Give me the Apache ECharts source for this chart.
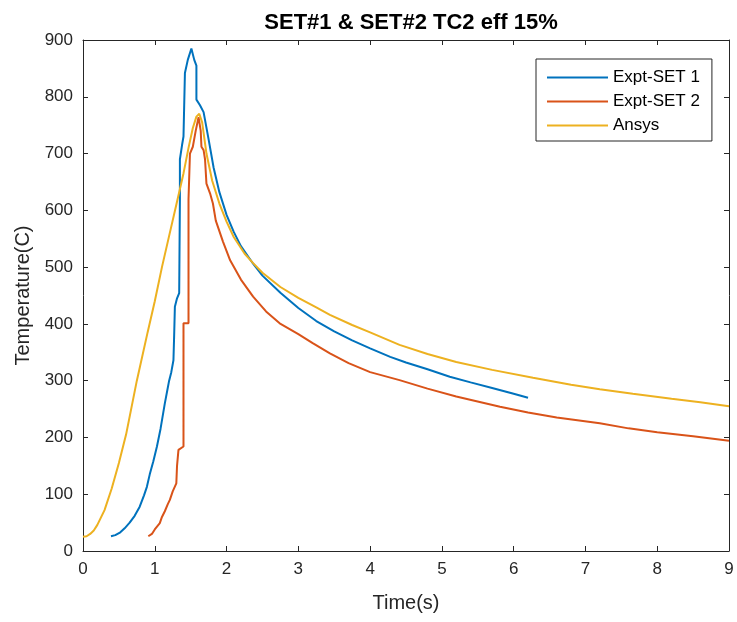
<!DOCTYPE html>
<html>
<head>
<meta charset="utf-8">
<script src="https://cdn.jsdelivr.net/npm/echarts@6/dist/echarts.min.js"></script>
<style>
html,body{margin:0;padding:0;background:#fff;}
#chart{width:737px;height:622px;}
</style>
</head>
<body>
<div id="chart"></div>
<script>
const titleText = 'SET#1 & SET#2 TC2 eff 15%';
const xName = 'Time(s)';
const yName = 'Temperature(C)';
const seriesNames = ['Expt-SET 1', 'Expt-SET 2', 'Ansys'];
const seriesColors = ['#0072BD', '#D95319', '#EDB120'];
const xTicks = [0,1,2,3,4,5,6,7,8,9];
const yTicks = [0,100,200,300,400,500,600,700,800,900];

const set1 = [[0.39,26],[0.45,28],[0.52,33],[0.58,40],[0.65,50],[0.72,62],[0.79,78],[0.85,98],[0.89,113],[0.93,135],[0.98,158],[1.03,184],[1.08,215],[1.12,245],[1.14,260],[1.17,280],[1.20,300],[1.23,315],[1.26,336],[1.27,380],[1.28,430],[1.31,445],[1.34,454],[1.35,620],[1.35,690],[1.38,715],[1.40,730],[1.42,842],[1.46,865],[1.51,885],[1.55,865],[1.58,855],[1.58,795],[1.63,785],[1.68,773],[1.75,725],[1.82,675],[1.9,632],[2.0,592],[2.1,562],[2.2,537],[2.37,506],[2.5,485],[2.75,455],[3.0,428],[3.25,405],[3.5,387],[3.75,371],[4.0,357],[4.28,342],[4.5,332],[4.8,320],[5.11,307],[5.4,297],[5.7,287],[6.0,277],[6.2,270]];

const set2 = [[0.91,26],[0.96,30],[1.0,38],[1.07,49],[1.1,60],[1.14,70],[1.18,82],[1.21,90],[1.25,105],[1.30,119],[1.31,150],[1.33,178],[1.40,184],[1.40,401],[1.47,401],[1.47,620],[1.49,700],[1.53,712],[1.57,740],[1.61,764],[1.64,740],[1.65,712],[1.68,706],[1.70,690],[1.72,647],[1.77,630],[1.81,612],[1.85,582],[1.95,545],[2.05,512],[2.2,478],[2.37,448],[2.55,422],[2.74,401],[3.0,382],[3.2,366],[3.44,348],[3.7,331],[4.0,315],[4.41,301],[4.8,286],[5.2,272],[5.81,254],[6.2,244],[6.6,235],[7.2,225],[7.6,216],[8.0,209],[8.5,202],[9.0,194]];

const ansys = [[0,25],[0.05,26],[0.1,30],[0.15,36],[0.2,46],[0.3,72],[0.4,110],[0.5,155],[0.6,205],[0.75,300],[0.9,385],[1.0,440],[1.1,500],[1.2,555],[1.3,610],[1.4,665],[1.47,710],[1.53,745],[1.58,765],[1.62,770],[1.66,755],[1.72,700],[1.8,652],[1.9,612],[2.0,580],[2.1,553],[2.25,524],[2.37,507],[2.5,490],[2.75,465],[3.0,446],[3.25,429],[3.44,416],[3.75,398],[4.0,385],[4.41,363],[4.8,347],[5.2,333],[5.7,319],[6.27,305],[6.8,293],[7.2,285],[7.66,277],[8.2,268],[8.6,262],[9.0,255]];

const seriesData = [set1, set2, ansys];

const axisColor = '#262626';
const font = 'Liberation Sans, Arial, sans-serif';
const chart = echarts.init(document.getElementById('chart'), null, {renderer:'canvas'});
const baseTick = {show:true, inside:true, length:5, lineStyle:{color:axisColor, width:1}};
chart.setOption({
  animation:false,
  backgroundColor:'#fff',
  title:{text:titleText, left:406, top:7, textAlign:'center',
    textStyle:{fontFamily:font, fontWeight:'bold', fontSize:22, color:'#000'}},
  grid:{left:83, right:8, top:40, bottom:71, containLabel:false},
  legend:{orient:'vertical', left:536, top:59, padding:[10,12,7,11], itemGap:7,
    itemWidth:61, itemHeight:2, borderColor:axisColor, borderWidth:1, backgroundColor:'#fff',
    textStyle:{fontFamily:font, fontSize:17, color:'#000'},
    data:seriesNames.map(n => ({name:n, icon:'rect'}))},
  xAxis:[
    {type:'value', min:0, max:9, interval:1, position:'bottom',
     name:xName, nameLocation:'middle', nameGap:42,
     nameTextStyle:{fontFamily:font, fontSize:20, color:axisColor},
     axisLine:{show:true, lineStyle:{color:axisColor, width:1}},
     axisTick:baseTick, splitLine:{show:false},
     axisLabel:{fontFamily:font, fontSize:17, color:axisColor, margin:10}},
    {type:'value', min:0, max:9, interval:1, position:'top',
     axisLine:{show:true, onZero:false, lineStyle:{color:axisColor, width:1}},
     axisTick:baseTick, axisLabel:{show:false}, splitLine:{show:false}}
  ],
  yAxis:[
    {type:'value', min:0, max:900, interval:100, position:'left',
     name:yName, nameLocation:'middle', nameGap:49,
     nameTextStyle:{fontFamily:font, fontSize:20, color:axisColor},
     axisLine:{show:true, lineStyle:{color:axisColor, width:1}},
     axisTick:baseTick, splitLine:{show:false},
     axisLabel:{fontFamily:font, fontSize:17, color:axisColor, margin:10}},
    {type:'value', min:0, max:900, interval:100, position:'right',
     axisLine:{show:true, onZero:false, lineStyle:{color:axisColor, width:1}},
     axisTick:baseTick, axisLabel:{show:false}, splitLine:{show:false}}
  ],
  series:seriesNames.map((n, i) => ({
    name:n, type:'line', data:seriesData[i], symbol:'none', showSymbol:false,
    lineStyle:{color:seriesColors[i], width:2}, itemStyle:{color:seriesColors[i]}, z:3+i
  }))
});
</script>
</body>
</html>
